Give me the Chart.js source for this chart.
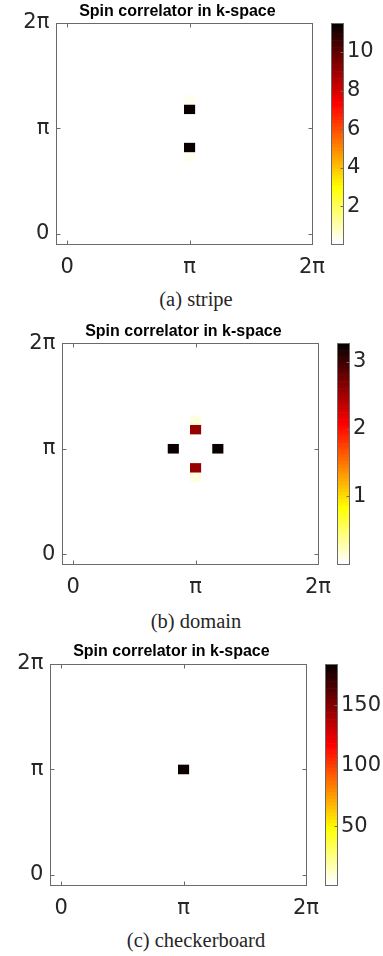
<!DOCTYPE html>
<html><head><meta charset="utf-8">
<script src="https://cdn.jsdelivr.net/npm/chart.js@4.4.1/dist/chart.umd.min.js"></script>
<style>
html,body{margin:0;padding:0;background:#fff;width:383px;height:956px;overflow:hidden;}
.panel{position:absolute;left:0;width:383px;height:285px;}
.cap{position:absolute;left:0;width:392px;text-align:center;font-family:"Liberation Serif","Times New Roman",serif;font-size:20.5px;color:#262626;line-height:24px;white-space:nowrap;}
</style></head><body>
<div class="panel" style="top:0"><canvas id="ca" width="383" height="285"></canvas></div>
<div class="cap" style="top:287px">(a) stripe</div>
<div class="panel" style="top:320px"><canvas id="cb" width="383" height="285"></canvas></div>
<div class="cap" style="top:609px">(b) domain</div>
<div class="panel" style="top:640px"><canvas id="cc" width="383" height="285"></canvas></div>
<div class="cap" style="top:928px">(c) checkerboard</div>
<script>
// ---- data ----
const N = 22;                       // lattice points per direction, k = 2*pi*n/N
const axisTickValues = [0, 1, 2];   // in units of pi
const axisTickLabels = ['0', 'π', '2π'];
const titleText = 'Spin correlator in k-space';

// (a) stripe
const stripeKxIdx = [11, 11, 11, 11];
const stripeKyIdx = [9, 13, 8, 14];
const stripeValues = [11.5, 11.5, 0.25, 0.25];
const stripeRange = [0.07, 11.5];
const stripeBarTicks = [2, 4, 6, 8, 10];

// (b) domain
const domainKxIdx = [9, 13, 11, 11, 11, 11, 11, 11, 0, 0, 3, 19];
const domainKyIdx = [11, 11, 9, 13, 8, 14, 7, 15, 3, 19, 0, 0];
const domainValues = [3.27, 3.27, 2.6, 2.6, 0.12, 0.12, 0.03, 0.03, 0.05, 0.05, 0.05, 0.05];
const domainRange = [0.0, 3.27];
const domainBarTicks = [1, 2, 3];

// (c) checkerboard
const checkKxIdx = [11];
const checkKyIdx = [11];
const checkValues = [184];
const checkRange = [1.8, 184];
const checkBarTicks = [50, 100, 150];

// ---- colormap: flipud(hot(64)) ----
const M = 64;
function hotRow(i) { // MATLAB hot, row i (0..M-1)
  const n = Math.floor(3 / 8 * M);
  const r = i < n ? (i + 1) / n : 1;
  const g = i < n ? 0 : (i < 2 * n ? (i - n + 1) / n : 1);
  const b = i < 2 * n ? 0 : (i - 2 * n + 1) / (M - 2 * n);
  return [r, g, b];
}
function cmap(v, lo, hi) {
  let k = Math.floor((v - lo) / (hi - lo) * M);
  k = Math.max(0, Math.min(M - 1, k));
  const c = hotRow(M - 1 - k);
  return 'rgb(' + c.map(t => Math.round(t * 255)).join(',') + ')';
}

const FONT = '"DejaVu Sans", Verdana, sans-serif';
const TITLE_FONT = '"Liberation Sans", Arial, Helvetica, sans-serif';
const TXT = '#262626';
const EDGE = '#6a6a6a';

const heatPlugin = {
  id: 'heat',
  beforeDatasetsDraw(chart) {
    const { ctx, chartArea: a, scales } = chart;
    const x = scales.x, y = scales.y, c = scales.c;
    const d = 2 / N;
    ctx.save();
    ctx.beginPath(); ctx.rect(a.left, a.top, a.right - a.left, a.bottom - a.top); ctx.clip();
    chart.data.datasets[0].data.forEach(p => {
      const x0 = x.getPixelForValue(p.x - d / 2), x1 = x.getPixelForValue(p.x + d / 2);
      const y0 = y.getPixelForValue(p.y + d / 2), y1 = y.getPixelForValue(p.y - d / 2);
      ctx.fillStyle = cmap(p.v, c.min, c.max);
      ctx.fillRect(x0, y0, x1 - x0, y1 - y0);
    });
    ctx.restore();
  },
  afterDatasetsDraw(chart) {
    const { ctx, chartArea: a, scales } = chart;
    const x = scales.x, y = scales.y, c = scales.c;
    ctx.save();
    ctx.strokeStyle = EDGE; ctx.lineWidth = 1;
    const L = Math.round(a.left) + 0.5, R = Math.round(a.right) + 0.5, T = Math.round(a.top) + 0.5, B = Math.round(a.bottom) + 0.5;
    ctx.strokeRect(L, T, R - L, B - T);
    ctx.beginPath();
    axisTickValues.forEach(v => {
      const px = Math.round(x.getPixelForValue(v)) + 0.5;
      ctx.moveTo(px, B); ctx.lineTo(px, B - 4);
      ctx.moveTo(px, T); ctx.lineTo(px, T + 4);
      const py = Math.round(y.getPixelForValue(v)) + 0.5;
      ctx.moveTo(L, py); ctx.lineTo(L + 4, py);
      ctx.moveTo(R, py); ctx.lineTo(R - 4, py);
    });
    ctx.stroke();
    // colorbar
    const cbL = Math.round(a.right + 19), cbW = 12;
    const yTop = c.getPixelForValue(c.max), yBot = c.getPixelForValue(c.min);
    for (let k = 0; k < M; k++) {
      const v0 = c.min + (c.max - c.min) * k / M, v1 = c.min + (c.max - c.min) * (k + 1) / M;
      const p0 = c.getPixelForValue(v0), p1 = c.getPixelForValue(v1);
      const col = hotRow(M - 1 - k);
      ctx.fillStyle = 'rgb(' + col.map(t => Math.round(t * 255)).join(',') + ')';
      ctx.fillRect(cbL, p1, cbW, p0 - p1 + 0.6);
    }
    ctx.strokeStyle = EDGE;
    ctx.strokeRect(cbL + 0.5, Math.round(yTop) + 0.5, cbW, Math.round(yBot - yTop));
    ctx.beginPath();
    c.ticks.forEach(t => {
      const py = Math.round(c.getPixelForValue(t.value)) + 0.5;
      const xr = cbL + 0.5 + cbW;
      ctx.moveTo(xr, py); ctx.lineTo(xr - 3, py);
    });
    ctx.stroke();
    ctx.restore();
  }
};

function makeChart(id, kxIdx, kyIdx, vals, range, barTicks, boxLeft, boxTop) {
  const pts = kxIdx.map((ix, i) => ({ x: ix * 2 / N, y: kyIdx[i] * 2 / N, v: vals[i] }));
  const boxW = 256, boxH = 220.5, H = 285, W = 383;
  const titleCenter = boxLeft + boxW / 2 - 6.6;
  const padL = 2 * titleCenter - W;          // negative left padding shifts the title centre
  const cbScaleW = W - (boxLeft + boxW);
  const tickFont = { family: FONT, size: 21, lineHeight: 1.2 };
  const setTicks = vals => scale => { scale.ticks = vals.map(v => ({ value: v })); };
  return new Chart(document.getElementById(id), {
    type: 'scatter',
    data: { datasets: [{ data: pts, pointRadius: 0, pointHoverRadius: 0, xAxisID: 'x', yAxisID: 'y' }] },
    options: {
      responsive: false, animation: false, events: [],
      layout: { padding: { left: padL, right: 0, top: 0, bottom: 0 } },
      plugins: {
        legend: { display: false }, tooltip: { enabled: false },
        title: {
          display: true, text: titleText, color: '#000',
          font: { family: TITLE_FONT, size: 16, weight: 'bold', lineHeight: 1.2 },
          padding: { top: 2.4, bottom: boxTop - 19.2 - 2.4 }
        }
      },
      scales: {
        x: {
          type: 'linear', position: 'bottom', min: -2 / N, max: 2,
          grid: { display: false, drawTicks: false }, border: { display: false },
          afterBuildTicks: setTicks(axisTickValues),
          afterFit: s => { s.height = H - boxTop - boxH; },
          ticks: { font: tickFont, color: TXT, padding: 11.4, maxRotation: 0, autoSkip: false,
                   callback: v => axisTickLabels[axisTickValues.indexOf(v)] }
        },
        y: {
          type: 'linear', position: 'left', min: -2 / N, max: 2,
          grid: { display: false, drawTicks: false }, border: { display: false },
          afterBuildTicks: setTicks(axisTickValues),
          afterFit: s => { s.width = boxLeft - padL; },
          ticks: { font: tickFont, color: TXT, padding: 6.7, autoSkip: false,
                   callback: v => axisTickLabels[axisTickValues.indexOf(v)] }
        },
        c: {
          type: 'linear', position: 'right', min: range[0], max: range[1],
          grid: { display: false, drawTicks: true, tickLength: 34 }, border: { display: false },
          afterBuildTicks: setTicks(barTicks),
          afterFit: s => { s.width = cbScaleW; },
          ticks: { font: tickFont, color: TXT, padding: 1, autoSkip: false, callback: v => String(v) }
        }
      }
    },
    plugins: [heatPlugin]
  });
}

makeChart('ca', stripeKxIdx, stripeKyIdx, stripeValues, stripeRange, stripeBarTicks, 56, 23);
makeChart('cb', domainKxIdx, domainKyIdx, domainValues, domainRange, domainBarTicks, 62, 23.3);
makeChart('cc', checkKxIdx, checkKyIdx, checkValues, checkRange, checkBarTicks, 50, 24);
</script>
</body></html>
